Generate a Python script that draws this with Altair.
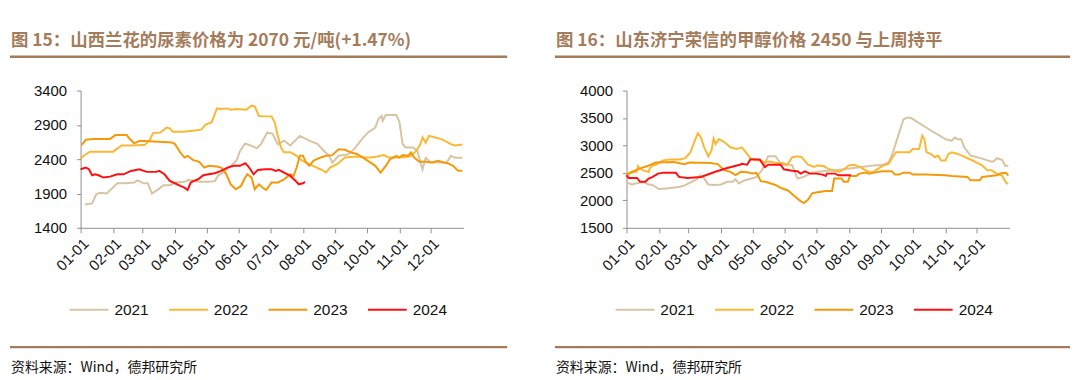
import altair as alt
import pandas as pd

# ---------------- data ----------------
years = ["2021", "2022", "2023", "2024"]
colors = ["#D8C4A2", "#FBB837", "#F39A0A", "#FF1010"]

month_labels = ["01-01", "02-01", "03-01", "04-01", "05-01", "06-01",
                "07-01", "08-01", "09-01", "10-01", "11-01", "12-01"]

# Urea (Shanxi Lanhua), yuan/ton
urea_2021_dates = ["01-05","01-12","01-16","01-20","01-26","01-30","02-05","02-13","02-21","02-24","03-02","03-06",
    "03-10","03-16","03-21","03-27","04-02","04-10","04-14","04-20","04-25","05-03","05-09","05-12","05-19","05-25",
    "05-30","06-02","06-07","06-12","06-18","06-22","06-28","07-03","07-08","07-14","07-20","07-29","08-07","08-15",
    "08-21","08-26","08-29","09-04","09-13","09-19","09-26","10-02","10-09","10-12","10-15","10-16","10-19","10-29",
    "11-01","11-04","11-07","11-14","11-18","11-23","11-26","12-01","12-16","12-20","12-24","12-31"]
urea_2021_vals = [1740,1756,1890,1910,1900,1960,2050,2050,2060,2090,2050,2050,
    1900,1960,2020,2020,2060,2070,2100,2080,2070,2070,2080,2160,2230,2310,
    2390,2520,2630,2600,2560,2620,2790,2770,2620,2670,2600,2740,2670,2620,
    2520,2450,2350,2450,2470,2550,2690,2790,2860,2990,3030,2960,3045,3045,
    2940,2620,2570,2570,2520,2250,2420,2350,2350,2450,2420,2420]

urea_2022_dates = ["01-01","01-04","01-10","02-01","02-09","02-19","02-27","03-03","03-08","03-11","03-18","03-24",
    "03-27","03-30","04-09","04-18","04-26","04-30","05-06","05-11","05-15","05-21","05-24","05-30","06-08","06-13",
    "06-16","06-20","06-26","07-02","07-05","07-08","07-11","07-14","07-20","07-26","07-29","08-04","08-11","08-18",
    "08-23","08-27","09-03","09-10","09-22","09-29","10-05","10-11","10-17","10-22","11-01","11-11","11-17","11-21",
    "11-23","11-26","11-29","12-05","12-11","12-16","12-20","12-24","12-31"]
urea_2022_vals = [2410,2450,2510,2510,2600,2600,2605,2605,2680,2780,2790,2860,
    2850,2800,2800,2815,2830,2900,2940,3140,3130,3140,3120,3130,3120,3180,
    3170,3030,3024,3024,2940,2740,2570,2500,2500,2450,2400,2350,2300,2250,
    2205,2280,2330,2424,2440,2424,2424,2440,2460,2424,2424,2440,2520,2620,
    2720,2640,2740,2717,2693,2654,2620,2600,2615]

urea_2023_dates = ["01-02","01-06","01-13","01-29","02-03","02-14","02-17","02-21","02-27","03-29","04-01","04-06",
    "04-10","04-13","04-18","04-24","04-29","05-03","05-11","05-15","05-20","05-24","05-29","06-03","06-06","06-09",
    "06-13","06-16","06-20","06-24","06-27","07-02","07-08","07-14","07-20","07-23","07-26","07-29","08-01","08-04",
    "08-07","08-11","08-14","08-18","08-23","08-29","09-04","09-10","09-16","09-22","10-02","10-09","10-14","10-19",
    "10-23","10-26","10-29","11-01","11-04","11-09","11-12","11-15","11-20","11-26","12-02","12-08","12-13","12-17",
    "12-22","12-27","12-31"]
urea_2023_vals = [2605,2683,2693,2693,2751,2751,2693,2634,2668,2644,2620,2498,
    2424,2449,2390,2361,2278,2303,2293,2278,2180,2034,1961,2010,2107,2180,
    2132,1961,2034,1980,1951,2059,2059,2107,2180,2156,2278,2449,2449,2351,
    2303,2376,2400,2424,2449,2459,2546,2537,2498,2473,2376,2303,2205,2303,
    2400,2424,2449,2424,2459,2449,2498,2424,2361,2361,2351,2376,2351,2341,
    2303,2230,2230]

urea_2024_dates = ["01-01","01-06","01-09","01-12","01-15","01-18","01-23","01-29","02-05","02-11","02-18","02-26",
    "03-05","03-14","03-17","03-22","03-27","04-01","04-06","04-10","04-13","04-16","04-19","04-23","04-28","05-03",
    "05-09","05-15","05-21","05-27","06-02","06-07","06-10","06-15","06-19","06-26","07-02","07-06","07-09","07-14",
    "07-20","07-25","07-28","08-01","08-03"]
urea_2024_vals = [2254,2278,2254,2166,2180,2166,2132,2146,2180,2180,2229,2254,
    2215,2215,2229,2180,2083,2049,2010,1985,1951,2059,2083,2107,2166,2180,
    2195,2229,2278,2303,2303,2342,2293,2180,2244,2254,2254,2229,2244,2205,
    2156,2083,2034,2049,2068]

# Methanol (Shandong Jining Rongxin), yuan/ton
meth_2021_dates = ["01-01","01-06","01-11","01-17","01-22","01-26","02-01","02-08","02-14","02-21","02-26","03-04",
    "03-09","03-12","03-15","03-20","03-26","04-01","04-07","04-12","04-15","04-18","04-24","04-30","05-05","05-10",
    "05-16","05-23","05-27","06-02","06-08","06-13","06-19","06-27","07-07","07-19","07-31","08-13","08-25","09-03",
    "09-08","09-12","09-17","09-22","09-25","09-29","10-04","10-19","11-01","11-07","11-10","11-13","11-16","11-19",
    "11-25","12-07","12-14","12-17","12-20","12-25","12-28","12-31"]
meth_2021_vals = [2330,2290,2310,2340,2290,2278,2206,2218,2230,2248,2278,2338,
    2385,2457,2427,2290,2278,2290,2338,2338,2385,2308,2367,2397,2427,2547,
    2804,2804,2696,2667,2637,2397,2427,2505,2529,2547,2577,2607,2637,2649,
    2696,2876,3175,3474,3504,3504,3444,3264,3115,3085,3145,3115,3115,2965,
    2816,2756,2708,2708,2768,2740,2630,2630]

meth_2022_dates = ["01-01","01-02","01-06","01-11","01-12","01-14","01-17","01-22","01-23","01-26","01-29","02-05",
    "02-11","02-21","02-26","03-03","03-07","03-10","03-13","03-16","03-20","03-23","03-25","03-27","03-30","04-04",
    "04-10","04-16","04-21","04-26","04-29","05-03","05-08","05-13","05-17","05-23","05-30","06-03","06-08","06-13",
    "06-17","06-23","06-29","07-02","07-08","07-12","07-17","07-23","07-28","08-01","08-06","08-12","08-17","08-23",
    "08-29","09-03","09-08","09-11","09-15","09-28","10-01","10-07","10-10","10-12","10-14","10-18","10-22","10-25",
    "10-28","11-01","11-04","11-07","11-13","11-25","12-06","12-11","12-15","12-20","12-25","12-29","12-31"]
meth_2022_vals = [2420,2505,2505,2529,2625,2577,2547,2517,2577,2637,2649,2726,
    2744,2744,2768,2876,3085,3223,3145,2966,2804,2906,3127,3025,3115,3067,
    2966,2935,2966,2846,2768,2744,2726,2696,2708,2684,2667,2637,2786,2804,
    2786,2649,2607,2637,2625,2577,2547,2517,2577,2637,2649,2607,2547,2505,
    2577,2637,2667,2768,2876,2876,2935,2935,3175,3115,2876,2846,2786,2816,
    2726,2726,2846,2876,2846,2744,2637,2547,2547,2487,2450,2320,2300]

meth_2023_dates = ["01-01","01-06","01-11","01-17","01-23","01-29","02-15","02-25","03-02","03-22","03-29","04-04",
    "04-10","04-15","04-20","04-26","05-01","05-05","05-09","05-15","05-23","05-29","06-04","06-10","06-15","06-19",
    "06-23","06-27","07-02","07-10","07-16","07-18","07-25","07-27","07-31","08-02","08-08","08-11","08-17","08-20",
    "08-25","09-02","09-11","09-14","09-18","09-22","09-28","10-01","10-13","11-01","11-07","11-22","11-25","12-04",
    "12-06","12-14","12-20","12-25","12-29","12-31"]
meth_2023_vals = [2450,2520,2560,2600,2640,2690,2700,2660,2690,2680,2660,2550,
    2520,2460,2520,2510,2490,2500,2350,2330,2280,2220,2180,2080,2000,1950,
    2010,2128,2146,2170,2170,2397,2397,2338,2338,2445,2445,2487,2505,2487,
    2505,2529,2529,2469,2469,2505,2505,2469,2469,2457,2445,2427,2367,2367,
    2427,2445,2457,2500,2500,2450]

meth_2024_dates = ["01-01","01-03","01-11","01-14","01-19","01-22","01-26","01-31","02-05","02-17","02-20","02-28",
    "03-13","03-26","04-07","04-19","04-21","04-26","04-29","05-08","05-13","05-16","05-28","05-31","06-08","06-13",
    "06-16","06-20","06-25","07-01","07-07","07-10","07-11","07-19","07-22","08-03"]
meth_2024_vals = [2457,2409,2409,2338,2338,2397,2427,2487,2505,2505,2427,2409,
    2427,2517,2589,2649,2667,2649,2744,2744,2607,2649,2649,2565,2541,2529,
    2487,2529,2487,2487,2469,2445,2487,2487,2457,2457]

urea_title = "图 15：山西兰花的尿素价格为 2070 元/吨(+1.47%)"
meth_title = "图 16：山东济宁荣信的甲醇价格 2450 与上周持平"
source_text = "资料来源：Wind，德邦研究所"

urea_y_ticks = [1400, 1900, 2400, 2900, 3400]
meth_y_ticks = [1500, 2000, 2500, 3000, 3500, 4000]

# ---------------- build tables ----------------
def doy(s):
    return int(pd.Timestamp("2021-" + s).dayofyear) - 1

def table(series):
    rows = []
    for yr, (dates, vals) in zip(years, series):
        for d, v in zip(dates, vals):
            rows.append({"day": doy(d), "value": v, "year": yr})
    return pd.DataFrame(rows)

urea_df = table([(urea_2021_dates, urea_2021_vals), (urea_2022_dates, urea_2022_vals),
                 (urea_2023_dates, urea_2023_vals), (urea_2024_dates, urea_2024_vals)])
meth_df = table([(meth_2021_dates, meth_2021_vals), (meth_2022_dates, meth_2022_vals),
                 (meth_2023_dates, meth_2023_vals), (meth_2024_dates, meth_2024_vals)])

tick_days = [doy(m) for m in month_labels]
label_expr = "[" + ",".join("'%s'" % m for m in month_labels) + "][indexof([" + \
             ",".join(str(d) for d in tick_days) + "], datum.value)]"

BROWN = "#A47C5B"
CJK = "Noto Sans CJK SC"
LAT = "Liberation Sans"
W, H = 385, 138
one = pd.DataFrame({"k": [0]})


def panel(df, ticks, title, left_off, rule_end, legend_x):
    lines = alt.Chart(df).mark_line(strokeWidth=2).encode(
        x=alt.X("day:Q", scale=alt.Scale(domain=[0, 365], nice=False, zero=False),
                axis=alt.Axis(values=tick_days, labelExpr=label_expr, labelAngle=-45, title=None,
                              grid=False, domainColor="#8F8F8F", tickColor="#8F8F8F", tickSize=5,
                              labelOverlap=False, labelFontSize=15, labelFont=LAT,
                              labelColor="#111111", labelPadding=3)),
        y=alt.Y("value:Q", scale=alt.Scale(domain=[ticks[0], ticks[-1]], nice=False, zero=False),
                axis=alt.Axis(values=ticks, format="d", title=None, grid=False, domainColor="#8F8F8F",
                              tickColor="#8F8F8F", tickSize=4, labelFontSize=15, labelFont=LAT,
                              labelColor="#111111", labelPadding=10)),
        color=alt.Color("year:N", scale=alt.Scale(domain=years, range=colors),
                        legend=alt.Legend(orient="none", legendX=legend_x, legendY=200, direction="horizontal",
                                          title=None, symbolType="stroke", symbolSize=1521,
                                          symbolStrokeWidth=2, labelFontSize=15.5, labelFont=LAT,
                                          labelColor="#111111", columnPadding=16, labelOffset=5,
                                          padding=0)),
    )
    ttl = alt.Chart(one).mark_text(align="left", baseline="middle", fontSize=17.5, fontWeight="bold",
                                   color=BROWN, font=CJK).encode(
        x=alt.value(left_off + 1), y=alt.value(-50), text=alt.value(title))
    rule_top = alt.Chart(one).mark_rule(color=BROWN, strokeWidth=2.5).encode(
        x=alt.value(left_off), x2=alt.value(rule_end), y=alt.value(-34))
    rule_bot = alt.Chart(one).mark_rule(color=BROWN, strokeWidth=2.5).encode(
        x=alt.value(left_off), x2=alt.value(rule_end), y=alt.value(258))
    src = alt.Chart(one).mark_text(align="left", baseline="middle", fontSize=14, color="#111111",
                                   font=CJK).encode(
        x=alt.value(left_off + 1), y=alt.value(279), text=alt.value(source_text))
    return alt.layer(lines, ttl, rule_top, rule_bot, src).properties(width=W, height=H)


left = panel(urea_df, urea_y_ticks, urea_title, -71, 429, -12)
right = panel(meth_df, meth_y_ticks, meth_title, -72, 446, -12)

chart = alt.hconcat(left, right, spacing=164, bounds="flush").resolve_legend(
    color="independent").configure_view(stroke=None).properties(
    padding={"left": 0, "top": 23, "right": 0, "bottom": 0})

chart.save("out.html", embed_options={"renderer": "svg", "actions": False})
